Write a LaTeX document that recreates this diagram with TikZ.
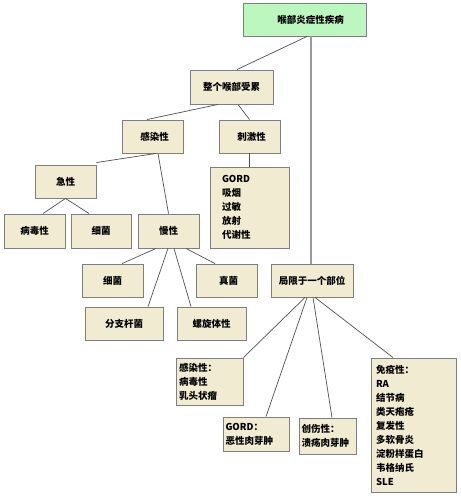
\documentclass[tikz,border=0pt]{standalone}
\usepackage{fontspec}
\setmainfont{Noto Sans CJK SC}
\usepackage{tikz}
\usetikzlibrary{positioning, calc}
\usepackage{xcolor}
\definecolor{boxfill}{HTML}{F1EBD2}
\definecolor{rootfill}{HTML}{BDF7C0}
\definecolor{boxline}{HTML}{7F7F7F}
\definecolor{edgeline}{HTML}{505050}
\definecolor{trunkline}{HTML}{9A9A9A}

\tikzset{
    box/.style={draw=boxline, line width=0.9pt, fill=boxfill, minimum height=33pt,
        inner sep=0pt, font=\fontsize{9.5}{14}\selectfont\bfseries},
    listbox/.style={box, align=left},
    edge/.style={draw=edgeline, line width=0.7pt},
    trunk/.style={draw=trunkline, line width=1.6pt}
}

\begin{document}
\begin{tikzpicture}[x=1pt, y=-1pt]
    \useasboundingbox (0,0) rectangle (460,497);

        % Root
        \node[box, fill=rootfill, minimum width=123pt] (root) at (304.5,19.5) {\hspace*{12pt}喉部炎症性疾病};

        % Whole larynx branch
        \node[box, minimum width=83pt, minimum height=34pt] (whole) at (231.5,87) {整个喉部受累};
        \node[box, minimum width=61pt] (infect) at (152.5,136.5) {\hspace*{4pt}感染性};
        \node[box, minimum width=61pt] (irrit) at (249.5,136.5) {\hspace*{4pt}刺激性};
        \node[listbox, minimum width=79pt, minimum height=81pt, text width=55pt, inner xsep=0pt]
            (irritlist) at (249.5,207.5) {GORD\\吸烟\\过敏\\放射\\代谢性};

        % Acute
        \node[box, minimum width=61pt] (acute) at (65.5,181.5) {急性};
        \node[box, minimum width=61pt, minimum height=34pt] (viral) at (34.5,231) {病毒性};
        \node[box, minimum width=60pt, minimum height=34pt] (bactA) at (101,231) {细菌};

        % Chronic
        \node[box, minimum width=61pt, minimum height=34pt] (chronic) at (168.5,231) {慢性};
        \node[box, minimum width=61pt] (bactC) at (112.5,280.5) {细菌};
        \node[box, minimum width=61pt] (fungus) at (226.5,280.5) {\hspace*{4pt}真菌};
        \node[box, minimum width=78pt] (myco) at (124,323.5) {分支杆菌};
        \node[box, minimum width=69pt] (spiro) at (211.5,323.5) {螺旋体性};

        % Localised branch
        \node[box, minimum width=82pt] (local) at (312,280.5) {局限于一个部位};
        \node[listbox, minimum width=67pt, minimum height=47pt, text width=61pt]
            (locinf) at (209.5,381.5) {感染性：\\病毒性\\乳头状瘤};
        \node[listbox, minimum width=66pt, minimum height=34pt, text width=61pt]
            (locgord) at (256,434) {GORD：\\恶性肉芽肿};
        \node[listbox, minimum width=57pt, minimum height=36pt, text width=52pt]
            (loctrauma) at (327.5,436) {创伤性：\\溃疡肉芽肿};
        \node[listbox, minimum width=85pt, minimum height=134pt, text width=75pt]
            (locimm) at (413.5,425) {免疫性：\\RA\\结节病\\类天疱疮\\复发性\\多软骨炎\\淀粉样蛋白\\韦格纳氏\\SLE};

        % Connectors
        \draw[edge] ([xshift=2.5pt]root.south) -- ([xshift=5.5pt]whole.north);
        \draw[trunk] ([xshift=6.5pt]root.south) -- ([xshift=-1pt]local.north);
        \draw[edge] ([xshift=-13.5pt]whole.south) -- ([xshift=-5.5pt]infect.north);
        \draw[edge] ([xshift=6.5pt]whole.south) -- (irrit.north);
        \draw[edge] (irrit.south) -- (irritlist.north);
        \draw[edge] ([xshift=3.5pt]infect.south) -- ([yshift=2pt]acute.north east);
        \draw[edge] ([xshift=5.5pt]infect.south) -- (chronic.north);
        \draw[edge] (acute.south) -- ([xshift=8.5pt]viral.north);
        \draw[edge] (acute.south) -- ([xshift=-12pt]bactA.north);
        \draw[edge] ([xshift=-12.5pt]chronic.south) -- ([xshift=9.5pt]bactC.north);
        \draw[edge] ([xshift=-0.5pt]chronic.south) -- ([xshift=24pt]myco.north);
        \draw[edge] ([xshift=5.5pt]chronic.south) -- ([xshift=-20.5pt]spiro.north);
        \draw[edge] ([xshift=17.5pt]chronic.south) -- ([xshift=-11.5pt]fungus.north);
        \draw[edge] ([xshift=-7pt]local.south) -- (locinf.north east);
        \draw[edge] ([xshift=-5pt]local.south) -- ([xshift=10pt]locgord.north);
        \draw[edge] ([xshift=1pt]local.south) -- ([xshift=4.5pt]loctrauma.north);
        \draw[edge] ([xshift=3pt]local.south) -- ([xshift=-20.5pt]locimm.north);
\end{tikzpicture}
\end{document}
